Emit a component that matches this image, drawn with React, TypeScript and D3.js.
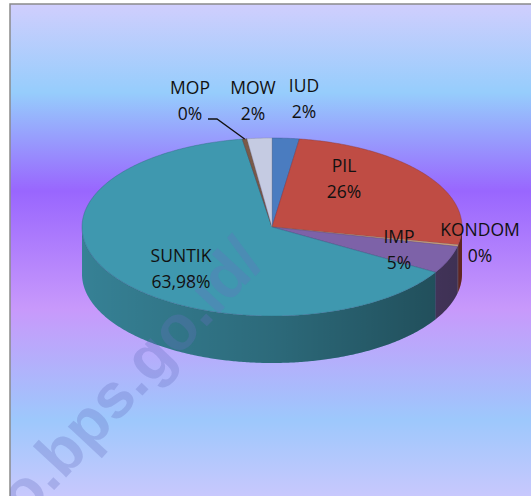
import React from 'react';
import * as d3 from 'd3';

// ---- data ----
const categories = ['IUD', 'PIL', 'KONDOM', 'IMP', 'SUNTIK', 'MOP', 'MOW'];
const values = [2.3, 25.9, 0.3, 5.0, 63.98, 0.4, 2.1];
const valueLabels = ['2%', '26%', '0%', '5%', '63,98%', '0%', '2%'];
const colors = ['#4a7cc0', '#bf4c44', '#d0a882', '#7d62a8', '#3f98af', '#7a5a48', '#c5cbe2'];

// ---- layout ----
const W = 531;
const H = 496;
const cx = 272;
const cy = 227;
const rx = 190;
const ry = 89;
const depth = 47;
// label centres (name line / value line) – layout only
const labelLayout: [number, number][] = [
  [304, 85], // IUD
  [344, 165], // PIL
  [480, 229], // KONDOM
  [399, 236], // IMP
  [181, 255], // SUNTIK
  [190, 87], // MOP
  [253, 87], // MOW
];
const lineGap = 26;

const pieGen = d3.pie<number>().sort(null).value((d) => d);
const arcs = pieGen(values);

const pt = (a: number, dy = 0): [number, number] => [cx + rx * Math.sin(a), cy - ry * Math.cos(a) + dy];
const arcPts = (a0: number, a1: number, dy = 0): [number, number][] => {
  const n = Math.max(2, Math.ceil((a1 - a0) / 0.01));
  return d3.range(n + 1).map((i) => pt(a0 + ((a1 - a0) * i) / n, dy));
};
const lineGen = d3.line();

export default function App() {
  const tops = arcs.map((a) => lineGen([[cx, cy], ...arcPts(a.startAngle, a.endAngle)]) + 'Z');
  const sides = arcs.map((a) => {
    const s0 = Math.max(a.startAngle, Math.PI / 2);
    const s1 = Math.min(a.endAngle, (3 * Math.PI) / 2);
    if (s1 <= s0) return null;
    return lineGen([...arcPts(s0, s1), ...arcPts(s0, s1, depth).reverse()]) + 'Z';
  });
  const fullSide = lineGen([...arcPts(Math.PI / 2, (3 * Math.PI) / 2), ...arcPts(Math.PI / 2, (3 * Math.PI) / 2, depth).reverse()]) + 'Z';

  // MOP leader line end point
  const mop = arcs[5];
  const mopEnd = pt((mop.startAngle + mop.endAngle) / 2);
  const [mlx, mly] = labelLayout[5];

  const bgStops: [number, string][] = [
    [0, '#d0cefd'],
    [0.18, '#96cdfc'],
    [0.38, '#9966fe'],
    [0.62, '#c899fb'],
    [0.845, '#9dc8fc'],
    [1, '#c8c8fd'],
  ];

  return (
    <svg width={W} height={H} style={{ position: 'absolute', left: 0, top: 0, display: 'block' }}>
      <defs>
        <linearGradient id="bg" x1="0" y1="4" x2="0" y2="496" gradientUnits="userSpaceOnUse">
          {bgStops.map(([o, c], i) => (
            <stop key={i} offset={o} stopColor={c} />
          ))}
        </linearGradient>
        <linearGradient id="sideShade" x1={cx - rx} y1="0" x2={cx + rx} y2="0" gradientUnits="userSpaceOnUse">
          <stop offset="0" stopColor="#000" stopOpacity={0} />
          <stop offset="0.5" stopColor="#000" stopOpacity={0.18} />
          <stop offset="1" stopColor="#000" stopOpacity={0.42} />
        </linearGradient>
        <clipPath id="frame">
          <rect x={10} y={4} width={W} height={H} />
        </clipPath>
      </defs>
      <rect x={0} y={0} width={W} height={H} fill="#fff" />
      <rect x={10} y={4} width={W + 10} height={H + 10} fill="url(#bg)" stroke="#8a8a8a" strokeWidth={1.5} />

      {/* sides */}
      {sides.map((p, i) =>
        p ? <path key={'s' + i} d={p} fill={d3.color(colors[i])!.darker(0.45).formatHex()} /> : null
      )}
      <path d={fullSide} fill="url(#sideShade)" />

      {/* top faces */}
      {tops.map((p, i) => (
        <path
          key={'t' + i}
          d={p}
          fill={colors[i]}
          stroke={d3.color(colors[i])!.darker(1).formatHex()}
          strokeOpacity={0.5}
          strokeWidth={0.8}
        />
      ))}

      {/* watermark */}
      <g clipPath="url(#frame)">
        <text
          transform="translate(266,263) rotate(-47)"
          textAnchor="end"
          fontFamily="'Liberation Sans', Arial, sans-serif"
          fontWeight="bold"
          fontSize={63}
          fill="#6870c0"
          fillOpacity={0.3}
        >
          o.bps.go.id/
        </text>
      </g>

      {/* leader line */}
      <polyline
        points={`${mlx + 18},${mly + 32} ${mlx + 27},${mly + 32} ${mopEnd[0]},${mopEnd[1]}`}
        fill="none"
        stroke="#111"
        strokeWidth={1.3}
      />

      {/* labels */}
      {categories.map((c, i) => {
        const [x, y] = labelLayout[i];
        return (
          <g key={'l' + i} fontFamily="'Open Sans', sans-serif" fontSize={17.5} fill="#111" textAnchor="middle">
            <text x={x} y={y} dominantBaseline="central">
              {c}
            </text>
            <text x={x} y={y + lineGap} dominantBaseline="central">
              {valueLabels[i]}
            </text>
          </g>
        );
      })}
    </svg>
  );
}
